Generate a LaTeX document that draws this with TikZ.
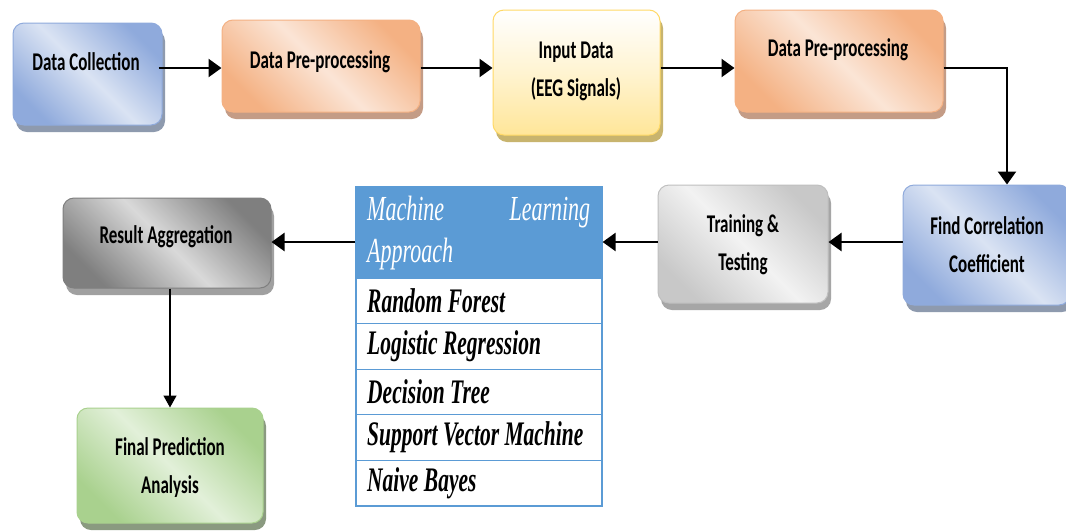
\documentclass[tikz,border=0pt]{standalone}
\usepackage{fontspec}
\usepackage{graphicx}
\newfontfamily\cfont{Carlito}
\newfontfamily\tfont{Liberation Serif}
\usetikzlibrary{arrows.meta,shadows,calc}
\newcommand\vst[1]{\scalebox{1}[1.5]{#1}}
\newcommand\vsr[1]{\scalebox{1}[1.6]{#1}}
\definecolor{bluD}{HTML}{8FAADC}
\definecolor{bluL}{HTML}{DAE3F3}
\definecolor{bluS}{HTML}{8E9AAE}
\definecolor{orD}{HTML}{F4B183}
\definecolor{orL}{HTML}{FBE5D6}
\definecolor{orS}{HTML}{C49C86}
\definecolor{yeB}{HTML}{FFE699}
\definecolor{yeD}{HTML}{FFD966}
\definecolor{yeS}{HTML}{C8B46E}
\definecolor{grL}{HTML}{F2F2F2}
\definecolor{grD}{HTML}{C8C8C8}
\definecolor{grB}{HTML}{BFBFBF}
\definecolor{grS}{HTML}{A6A6A6}
\definecolor{dgD}{HTML}{7F7F7F}
\definecolor{dgL}{HTML}{D9D9D9}
\definecolor{dgS}{HTML}{A0A0A0}
\definecolor{gnD}{HTML}{A9D18E}
\definecolor{gnL}{HTML}{E2F0D9}
\definecolor{gnS}{HTML}{8A9A80}
\definecolor{mlB}{HTML}{5B9BD5}
\begin{document}
\begin{tikzpicture}[x=1pt,y=-1pt,
  flowbox/.style={rounded corners=11pt, line width=1pt, inner sep=0pt},
  diag/.style n args={3}{flowbox, draw=#1, top color=#1, bottom color=#1, middle color=#2, shading angle=-45,
     drop shadow={shadow xshift=3pt, shadow yshift=-7pt, fill=#3, opacity=1}},
  lbl/.style={font=\cfont\bfseries\fontsize{17}{38}\selectfont, align=center, inner sep=0pt},
  mlrow/.style={draw=mlB, line width=1.2pt, fill=white, minimum width=246pt, minimum height=45.6pt, inner sep=0pt},
  rowtxt/.style={font=\tfont\bfseries\itshape\fontsize{21.5}{26}\selectfont, anchor=west, inner sep=0pt},
  arr/.style={line width=2.4pt, -{Triangle[length=13pt,width=18pt]}},
  arrthin/.style={line width=1.4pt, -{Triangle[length=12pt,width=13pt]}}]
\useasboundingbox (0,0) rectangle (1066,531);
\fill[white] (0,0) rectangle (1066,531);
% boxes
\node[diag={bluD}{bluL}{bluS}, minimum width=149pt, minimum height=102pt] (dc) at (87.5,74) {};
\node[diag={orD}{orL}{orS}, minimum width=198pt, minimum height=92pt] (pp1) at (321,66) {};
\node[flowbox, draw=yeD, top color=white, bottom color=yeB, middle color=white!55!yeB,
  drop shadow={shadow xshift=3pt, shadow yshift=-7pt, fill=yeS, opacity=1},
  minimum width=167pt, minimum height=125pt] (inp) at (576.5,72.5) {};
\node[diag={orD}{orL}{orS}, minimum width=208pt, minimum height=102pt] (pp2) at (839,61) {};
\node[diag={bluD}{bluL}{bluS}, minimum width=167pt, minimum height=120pt] (fc) at (986.5,245) {};
\node[flowbox, draw=grB, top color=grD, bottom color=grD, middle color=grL, shading angle=-45,
  drop shadow={shadow xshift=3pt, shadow yshift=-7pt, fill=grS, opacity=1},
  minimum width=170pt, minimum height=118pt] (tt) at (743,244) {};
\node[diag={dgD}{dgL}{dgS}, minimum width=208pt, minimum height=90pt] (ra) at (167,243) {};
\node[diag={gnD}{gnL}{gnS}, minimum width=186pt, minimum height=115pt] (fp) at (170,465.5) {};
% texts
\node[lbl] (dct) at (86,62) {\vst{Data Collection}};
\node[lbl] (pp1t) at (320,62) {\vst{Data Pre-processing}};
\node[lbl] (inpt) at (576,71) {\vst{Input Data}\\\vst{(EEG Signals)}};
\node[lbl] (pp2t) at (838,50) {\vst{Data Pre-processing}};
\node[lbl] (fct) at (987,245) {\vst{Find Correlation}\\\vst{Coefficient}};
\node[lbl] (ttt) at (743,245) {\vst{Training \&}\\\vst{Testing}};
\node[lbl] (rat) at (166,237) {\vst{Result Aggregation}};
\node[lbl] (fpt) at (170,468) {\vst{Final Prediction}\\\vst{Analysis}};
% ML table
\node[draw=mlB, line width=1.2pt, fill=mlB, minimum width=246pt, minimum height=91pt, inner sep=0pt] (mlh) at (479,232.5) {};
\node[mlrow] (r1) at (479,300.8) {};
\node[mlrow] (r2) at (479,346.4) {};
\node[mlrow] (r3) at (479,392.0) {};
\node[mlrow] (r4) at (479,437.6) {};
\node[mlrow] (r5) at (479,483.2) {};
\node[font=\tfont\itshape\fontsize{22}{42}\selectfont, text=white, align=left, anchor=north west, inner sep=0pt] (mlht) at (367,196)
  {\makebox[223pt][s]{\vsr{Machine}\hfill\vsr{Learning}}\\\vsr{Approach}};
\node[rowtxt] (r1t) at (367,300.8) {\vsr{Random Forest}};
\node[rowtxt] (r2t) at (367,346.4) {\vsr{Logistic Regression}};
\node[rowtxt] (r3t) at (367,392.0) {\vsr{Decision Tree}};
\node[rowtxt] (r4t) at (367,437.6) {\vsr{Support Vector Machine}};
\node[rowtxt] (r5t) at (367,483.2) {\vsr{Naive Bayes}};
% connectors
\coordinate (row1) at (0,68);
\coordinate (row2) at (0,242);
\draw[arr] ([xshift=-4pt]dc.east |- row1) -- (pp1.west |- row1);
\draw[arr] (pp1.east |- row1) -- (inp.west |- row1);
\draw[arr] (inp.east |- row1) -- (pp2.west |- row1);
\draw[arr] (pp2.east |- row1) -| ([xshift=20.5pt]fc.north);
\draw[arr] (fc.west |- row2) -- (tt.east |- row2);
\draw[arr] (tt.west |- row2) -- (mlh.east |- row2);
\draw[arr] (mlh.west |- row2) -- (ra.east |- row2);
\draw[arrthin] (ra.south -| fp.north) -- (fp.north);
\end{tikzpicture}
\end{document}
